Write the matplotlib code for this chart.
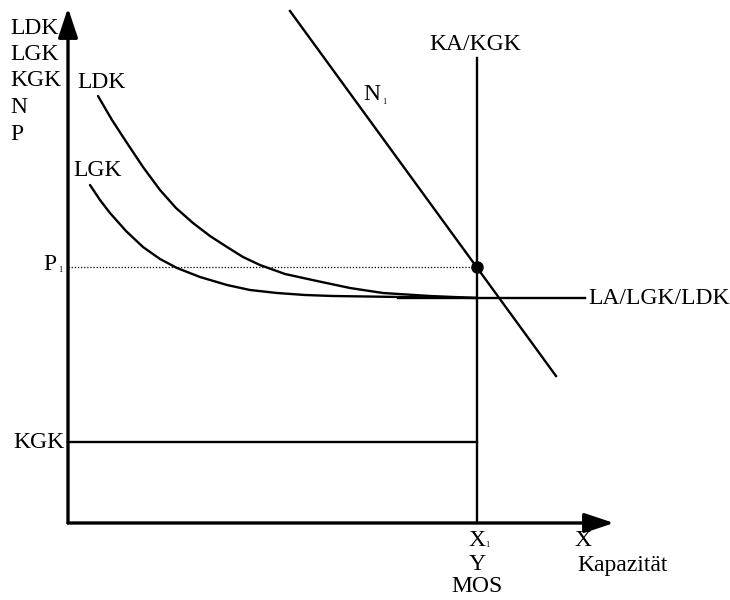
import matplotlib
matplotlib.use('Agg')
import matplotlib.pyplot as plt

# units: pixels from the axis origin (right / up)
ldk_x = [30, 44, 59, 75, 92, 108, 125, 142, 159, 175, 192, 217, 249, 282, 315, 362, 409]
ldk_y = [427, 403, 380, 356, 333, 315, 300, 287, 276, 266, 258, 249, 242, 235, 230, 227, 225]
lgk_x = [22, 32, 42, 58, 75, 92, 109, 132, 159, 182, 209, 237, 265, 332, 409]
lgk_y = [338, 323, 310, 292, 276, 264, 255, 246, 238, 233, 230, 228, 227, 226, 225]
n1_x = [222, 488]
n1_y = [512, 147]
x1 = 409
p1 = 256
kgk = 81
la = 225
la_x = [330, 517]
ka_top = 465
x_end = 546
y_end = 515

y_labels = ["LDK", "LGK", "KGK", "N", "P"]

plt.rcParams['font.family'] = ['Liberation Serif', 'DejaVu Serif']
fig = plt.figure(figsize=(7.3, 6), dpi=100)
ax = fig.add_axes([0, 0, 1, 1])
ax.set_xlim(-68, 662)
ax.set_ylim(-77, 523)
ax.axis('off')

fs = 17
lw = 1.7

# axes with arrows
arrow = dict(arrowstyle='-|>,head_length=0.9,head_width=0.3', lw=2.4, color='black',
             mutation_scale=20, shrinkA=0, shrinkB=0)
ax.annotate('', xy=(0, y_end), xytext=(0, 0), arrowprops=arrow)
ax.annotate('', xy=(x_end, 0), xytext=(0, 0), arrowprops=arrow)

ax.plot(ldk_x, ldk_y, color='black', lw=lw, solid_capstyle='round', solid_joinstyle='round')
ax.plot(lgk_x, lgk_y, color='black', lw=lw, solid_capstyle='round', solid_joinstyle='round')
ax.plot(n1_x, n1_y, color='black', lw=lw)
ax.plot(la_x, [la, la], color='black', lw=lw)
ax.plot([x1, x1], [0, ka_top], color='black', lw=lw)
ax.plot([0, x1], [kgk, kgk], color='black', lw=lw)
ax.plot([0, x1], [p1, p1], color='black', lw=0.9, linestyle=(0, (1, 1.5)))
ax.plot([x1], [p1], 'o', color='black', markersize=8)

# labels
for i, t in enumerate(y_labels):
    ax.text(-58, 495 - i * 26.5, t, fontsize=fs, ha='left', va='center')
ax.text(9, 441, "LDK", fontsize=fs, ha='left', va='center')
ax.text(5, 353, "LGK", fontsize=fs, ha='left', va='center')
ax.text(295, 428, "N", fontsize=fs, ha='left', va='center')
ax.text(314, 421, "1", fontsize=6, ha='left', va='center')
ax.text(x1 - 2, 479, "KA/KGK", fontsize=fs, ha='center', va='center')
ax.text(la_x[1] + 3, la, "LA/LGK/LDK", fontsize=fs, ha='left', va='center')
ax.text(-12, p1 + 3, "P", fontsize=fs, ha='right', va='center')
ax.text(-10, p1 - 3, "1", fontsize=6, ha='left', va='center')
ax.text(-4, kgk, "KGK", fontsize=fs, ha='right', va='center')
ax.text(x1, -17, "X", fontsize=fs, ha='center', va='center')
ax.text(x1 + 8, -22, "1", fontsize=6, ha='left', va='center')
ax.text(x1, -42, "Y", fontsize=fs, ha='center', va='center')
ax.text(x1, -64, "MOS", fontsize=fs, ha='center', va='center')
ax.text(515, -17, "X", fontsize=fs, ha='center', va='center')
ax.text(509, -42, "Kapazität", fontsize=fs, ha='left', va='center')

fig.savefig('out.png', dpi=100)
